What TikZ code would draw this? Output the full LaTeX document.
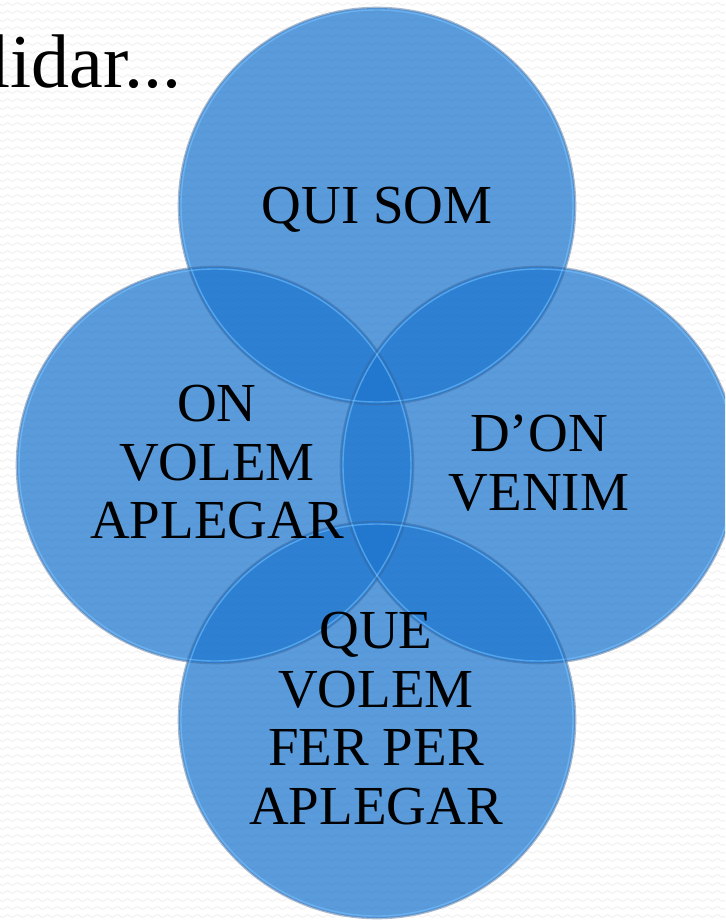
\documentclass[tikz,border=0pt]{standalone}
\usepackage{fontspec}
\setmainfont{Liberation Serif}
\definecolor{bubble}{RGB}{30,118,207}
\definecolor{rimdark}{RGB}{60,100,150}
\definecolor{rimlight}{RGB}{120,195,255}
\definecolor{bgwave}{RGB}{238,238,238}
\tikzset{
  bubblefill/.style={fill=bubble, fill opacity=0.73, draw=none},
  bubblerim/.style={draw=rimdark, draw opacity=0.45, line width=1.6pt},
  bubbleinner/.style={draw=rimlight, draw opacity=0.55, line width=1.4pt},
  label/.style={font=\fontsize{55}{58.5}\selectfont, align=center, text=black, inner sep=0pt},
  title/.style={font=\fontsize{76}{80}\selectfont, text=black, inner sep=0pt, anchor=base east},
  bgline/.style={draw=bgwave, line width=0.8pt}
}
\begin{document}
\begin{tikzpicture}[x=1pt,y=-1pt]
\useasboundingbox (0,0) rectangle (725,920);
\fill[white] (0,0) rectangle (725,920);
\clip (0,0) rectangle (725,920);
\foreach \r in {4,12,...,916}{
  \draw[bgline] plot[domain=0:725, samples=291] (\x, {\r + 1.4*sin(mod(\x,10)*36)});
}
% circles
\coordinate (ctop) at (377,206);
\coordinate (cleft) at (215,465);
\coordinate (cright) at (539,465);
\coordinate (cbot) at (377,720);
\foreach \c in {ctop,cleft,cright,cbot}{
  \fill[bubblefill] (\c) circle[radius=198];
}
\foreach \c in {ctop,cleft,cright,cbot}{
  \draw[bubbleinner] (\c) circle[radius=196];
  \draw[bubblerim] (\c) circle[radius=198.5];
}
% title
\node[title] (t) at (182,88) {lidar...};
% labels
\node[label, anchor=base] (qui) at (377,223) {QUI SOM};
\node[label, anchor=north] (on) at (217,385) {ON\\VOLEM\\APLEGAR};
\node[label, anchor=north] (don) at (539,415) {D’ON\\VENIM};
\node[label, anchor=north] (que) at (376,612) {QUE\\VOLEM\\FER PER\\APLEGAR};
\end{tikzpicture}
\end{document}
